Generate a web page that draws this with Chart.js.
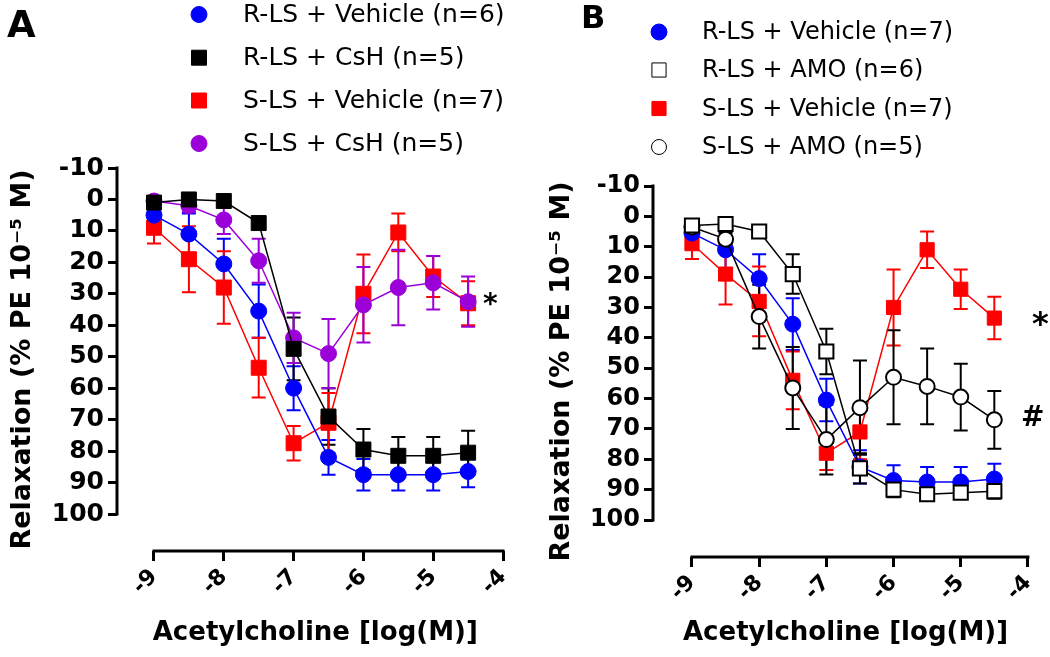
<!DOCTYPE html>
<html>
<head>
<meta charset="utf-8">
<script src="https://cdn.jsdelivr.net/npm/chart.js@4"></script>
<style>
  body { margin: 0; background: #fff; }
  #page { position: relative; width: 1050px; height: 657px; overflow: hidden; font-family: 'DejaVu Sans', sans-serif; }
  .panel { position: absolute; top: 0; }
  .mark { position: absolute; font-weight: bold; color: #000; line-height: 1; white-space: nowrap; }
</style>
</head>
<body>
<div id="page">
  <div class="panel" style="left:0"><canvas id="chartA" width="530" height="657"></canvas></div>
  <div class="panel" style="left:530px"><canvas id="chartB" width="520" height="657"></canvas></div>
  <div class="mark" style="left:7px;top:6px;font-size:37px">A</div>
  <div class="mark" style="left:581px;top:1px;font-size:32px">B</div>
  <div class="mark" style="left:483px;top:290px;font-size:28px">*</div>
  <div class="mark" style="left:1032px;top:307px;font-size:32px">*</div>
  <div class="mark" style="left:1021px;top:403px;font-size:28px">#</div>
</div>
<script>
// ---------- data ----------
const doses = [-9, -8.5, -8, -7.5, -7, -6.5, -6, -5.5, -5, -4.5];
const xTicks = [-9, -8, -7, -6, -5, -4];
const yTicks = [-10, 0, 10, 20, 30, 40, 50, 60, 70, 80, 90, 100];

// panel A
const aRlsVeh    = [5, 11, 20.5, 35.5, 60, 82, 87.5, 87.5, 87.5, 86.5];
const aRlsVehErr = [2, 6.5, 8, 8.5, 7, 5.5, 5, 5, 5, 5];
const aRlsCsh    = [1, 0, 0.5, 7.5, 47.5, 69, 79.5, 81.5, 81.5, 80.5];
const aRlsCshErr = [1.5, 1, 1, 1.5, 10, 9, 6.5, 6, 6, 7];
const aSlsVeh    = [9, 19, 28, 53.5, 77.5, 71, 30, 10.5, 24.5, 33];
const aSlsVehErr = [5, 10.5, 11.5, 9.5, 5.5, 9.5, 12.5, 6, 6.5, 7];
const aSlsCsh    = [0.5, 2, 6.5, 19.5, 44, 49, 33.5, 28, 26.5, 32.5];
const aSlsCshErr = [1, 2, 4.5, 7, 8, 11, 12, 12, 8.5, 8];

// panel B
const bRlsVeh    = [5.5, 11, 20.5, 35.5, 60.5, 82.5, 87, 87.5, 87.5, 86.5];
const bRlsVehErr = [2, 6, 8, 8.5, 7, 5.5, 5, 5, 5, 5];
const bRlsAmo    = [3, 2.5, 5, 19, 44.5, 83, 90, 91.5, 91, 90.5];
const bRlsAmoErr = [1.5, 1.5, 1.5, 6.5, 7.5, 5, 2.5, 1.5, 1.5, 2.5];
const bSlsVeh    = [9, 19, 28, 54, 78, 71, 30, 11, 24, 33.5];
const bSlsVehErr = [5, 10, 11.5, 9.5, 5.5, 9, 12.5, 6, 6.5, 7];
const bSlsAmo    = [3.5, 7.5, 33, 56.5, 73.5, 63, 53, 56, 59.5, 67];
const bSlsAmoErr = [1.5, 2, 10.5, 13.5, 11.5, 15.5, 15.5, 12.5, 11, 9.5];

const FONT = "'DejaVu Sans', sans-serif";
const BLUE = '#0000ff', RED = '#ff0000', PURPLE = '#9b00d9', BLACK = '#000000';

function series(label, vals, errs, color, style, radius, open, order) {
  return {
    label: label,
    data: doses.map((d, i) => ({ x: d, y: vals[i] })),
    errors: errs,
    errColor: color,
    order: order,
    borderColor: color,
    borderWidth: 1.5,
    pointStyle: style,
    pointRadius: radius,
    pointBackgroundColor: open ? '#ffffff' : color,
    pointBorderColor: color,
    pointBorderWidth: open ? 2 : 1,
    showLine: true,
    tension: 0
  };
}

// ---------- plugins ----------
const axisLines = {
  id: 'axisLines',
  afterDraw(chart) {
    const { ctx, scales: { x, y } } = chart;
    ctx.save();
    ctx.strokeStyle = '#000';
    ctx.lineWidth = 3;
    const yTop = y.getPixelForValue(yTicks[0]) - 1.5;
    const yBot = y.getPixelForValue(yTicks[yTicks.length - 1]) + 1.5;
    ctx.beginPath();
    ctx.moveTo(x.left, yTop);
    ctx.lineTo(x.left, yBot);
    ctx.stroke();
    const xl = x.getPixelForValue(xTicks[0]) - 1.5;
    const xr = x.getPixelForValue(xTicks[xTicks.length - 1]) + 1.5;
    ctx.beginPath();
    ctx.moveTo(xl, y.bottom);
    ctx.lineTo(xr, y.bottom);
    ctx.stroke();
    ctx.restore();
  }
};

const errorBars = {
  id: 'errorBars',
  beforeDatasetsDraw(chart) {
    const { ctx, scales: { x, y } } = chart;
    chart.data.datasets.forEach((ds, i) => {
      if (!chart.isDatasetVisible(i)) return;
      ctx.save();
      ctx.strokeStyle = ds.errColor;
      ctx.lineWidth = 2;
      ds.data.forEach((p, j) => {
        const e = ds.errors[j];
        const px = x.getPixelForValue(p.x);
        const y1 = y.getPixelForValue(p.y - e);
        const y2 = y.getPixelForValue(p.y + e);
        ctx.beginPath();
        ctx.moveTo(px, y1); ctx.lineTo(px, y2);
        ctx.moveTo(px - 7, y1); ctx.lineTo(px + 7, y1);
        ctx.moveTo(px - 7, y2); ctx.lineTo(px + 7, y2);
        ctx.stroke();
      });
      ctx.restore();
    });
  }
};

// legend stacked in one column above the plot
const columnLegend = {
  id: 'columnLegend',
  afterDraw(chart, args, opts) {
    const ctx = chart.ctx;
    ctx.save();
    ctx.font = opts.fontSize + 'px ' + FONT;
    ctx.textBaseline = 'middle';
    ctx.fillStyle = '#000';
    chart.data.datasets.forEach((ds, i) => {
      const yy = opts.rows[i];
      ctx.save();
      ctx.fillStyle = ds.pointBackgroundColor;
      ctx.strokeStyle = ds.pointBorderColor;
      Chart.helpers.drawPoint(ctx, {
        pointStyle: ds.pointStyle,
        radius: ds.pointRadius,
        rotation: 0,
        borderWidth: ds.pointBorderWidth
      }, opts.markerX, yy);
      ctx.restore();
      ctx.fillText(ds.label, opts.textX, yy + 1);
    });
    ctx.restore();
  }
};

function makeChart(id, datasets, lay) {
  return new Chart(document.getElementById(id), {
    type: 'line',
    data: { datasets: datasets },
    plugins: [errorBars, axisLines, columnLegend],
    options: {
      responsive: false,
      animation: false,
      layout: { padding: { top: lay.top, left: 0, right: lay.right, bottom: 0 } },
      plugins: {
        legend: { display: false },
        tooltip: { enabled: false },
        columnLegend: { markerX: lay.markerX, textX: lay.textX, rows: lay.rows, fontSize: lay.legendSize }
      },
      scales: {
        x: {
          type: 'linear',
          min: lay.xMin,
          max: lay.xMax,
          afterBuildTicks: s => { s.ticks = xTicks.map(v => ({ value: v })); },
          afterFit: s => { s.height = lay.xHeight; },
          border: { display: false },
          grid: { drawOnChartArea: false, drawTicks: true, tickLength: 10, color: '#000', lineWidth: 3 },
          ticks: { minRotation: 45, maxRotation: 45, padding: 3, color: '#000',
                   font: { family: FONT, size: 22, weight: 'bold' } },
          title: { display: true, text: 'Acetylcholine [log(M)]', color: '#000',
                   font: { family: FONT, size: 26, weight: 'bold' }, padding: { top: 0, bottom: 8 } }
        },
        y: {
          type: 'linear',
          reverse: true,
          min: -10,
          max: lay.yMax,
          afterBuildTicks: s => { s.ticks = yTicks.map(v => ({ value: v })); },
          afterFit: s => { s.width = lay.yWidth; },
          border: { display: false },
          grid: { drawOnChartArea: false, drawTicks: true, tickLength: 9, color: '#000', lineWidth: 3 },
          ticks: { padding: 4, color: '#000', font: { family: FONT, size: lay.tickSize, weight: 'bold' } },
          title: { display: true, text: 'Relaxation (% PE 10\u207B\u2075 M)', color: '#000',
                   font: { family: FONT, size: 27, weight: 'bold' }, padding: { top: lay.titlePad, bottom: 0 } }
        }
      }
    }
  });
}

makeChart('chartA', [
  series('R-LS + Vehicle (n=6)', aRlsVeh, aRlsVehErr, BLUE, 'circle', 8, false, 1),
  series('R-LS + CsH (n=5)', aRlsCsh, aRlsCshErr, BLACK, 'rect', 10.6, false, 0),
  series('S-LS + Vehicle (n=7)', aSlsVeh, aSlsVehErr, RED, 'rect', 10.6, false, 3),
  series('S-LS + CsH (n=5)', aSlsCsh, aSlsCshErr, PURPLE, 'circle', 8, false, 2)
], { top: 168, right: 16.5, xMin: -9.53, xMax: -3.85, yMax: 111.76, xHeight: 106, yWidth: 117,
     tickSize: 25, titlePad: 7, markerX: 199, textX: 243, rows: [14.5, 57.7, 100.5, 143.5], legendSize: 25 });

makeChart('chartB', [
  series('R-LS + Vehicle (n=7)', bRlsVeh, bRlsVehErr, BLUE, 'circle', 8, false, 2),
  series('R-LS + AMO (n=6)', bRlsAmo, bRlsAmoErr, BLACK, 'rect', 10, true, 0),
  series('S-LS + Vehicle (n=7)', bSlsVeh, bSlsVehErr, RED, 'rect', 10, false, 3),
  series('S-LS + AMO (n=5)', bSlsAmo, bSlsAmoErr, BLACK, 'circle', 7.5, true, 1)
], { top: 186, right: 10.9, xMin: -9.58, xMax: -3.85, yMax: 112.18, xHeight: 100, yWidth: 123,
     tickSize: 24, titlePad: 16, markerX: 129, textX: 172, rows: [32, 70, 108.5, 147], legendSize: 24 });
</script>
</body>
</html>
